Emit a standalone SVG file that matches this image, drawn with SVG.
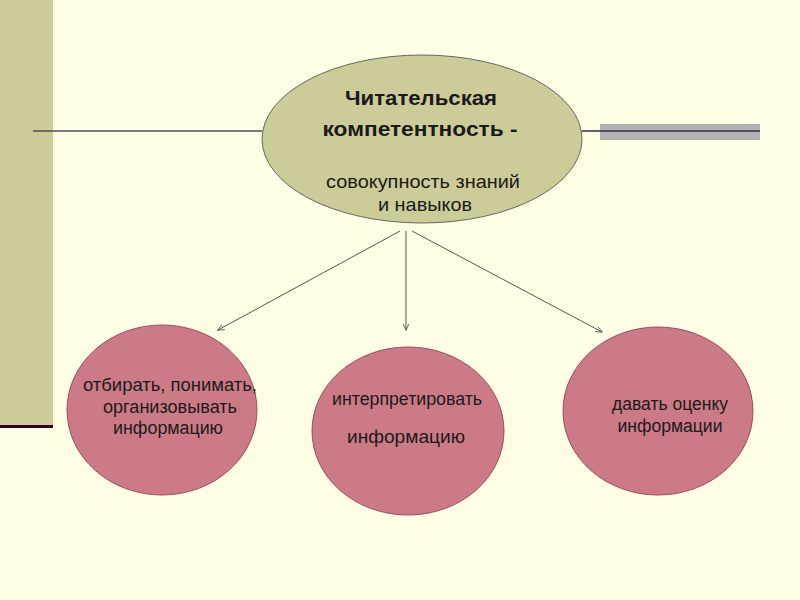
<svg xmlns="http://www.w3.org/2000/svg" width="800" height="600" viewBox="0 0 800 600">
<defs>
<style>
.t{font-family:"Liberation Sans",Arial,sans-serif;fill:#1a1a1a;text-anchor:middle}
.b{font-weight:bold;font-size:20px}
.n{font-size:19px}
.s{font-size:17.5px}
.pink{fill:#cc7a85;stroke:#9e4a58;stroke-width:1}
.con{stroke:#555;stroke-width:1;fill:none;marker-end:url(#ah)}
</style>
<marker id="ah" viewBox="0 0 10 10" refX="9" refY="5" markerWidth="7" markerHeight="7" orient="auto" markerUnits="userSpaceOnUse">
<path d="M0,1 L10,5 L0,9" fill="none" stroke="#555" stroke-width="1.2"/>
</marker>
</defs>
<rect width="800" height="600" fill="#ffffe5"/>
<rect x="0" y="0" width="53" height="426" fill="#cccc99"/>
<rect x="0" y="425" width="53" height="3" fill="#330033"/>
<line x1="33" y1="131" x2="262" y2="131" stroke="#5a4a55" stroke-width="1.5"/>
<rect x="600" y="124" width="160" height="16" fill="#b2b2b2"/>
<line x1="582" y1="131" x2="760" y2="131" stroke="#3a2540" stroke-width="1.5"/>
<g id="connectors">
<line class="con" x1="400" y1="231" x2="218" y2="330"/>
<line class="con" x1="406" y1="231" x2="406" y2="330"/>
<line class="con" x1="412" y1="231" x2="602" y2="332"/>
</g>
<g id="main">
<ellipse cx="422" cy="139" rx="160" ry="84" fill="#cccc99" stroke="#666" stroke-width="1"/>
<text class="t b" x="421" y="105" textLength="152" lengthAdjust="spacingAndGlyphs">Читательская</text>
<text class="t b" x="420" y="136" textLength="195" lengthAdjust="spacingAndGlyphs">компетентность -</text>
<text class="t n" x="423" y="188" textLength="194" lengthAdjust="spacingAndGlyphs">совокупность знаний</text>
<text class="t n" x="425" y="211" textLength="94" lengthAdjust="spacingAndGlyphs">и навыков</text>
</g>
<g id="n1">
<ellipse class="pink" cx="162" cy="410" rx="95" ry="85"/>
<text class="t s" x="170" y="391" textLength="174" lengthAdjust="spacingAndGlyphs">отбирать, понимать,</text>
<text class="t s" x="170" y="413" textLength="134" lengthAdjust="spacingAndGlyphs">организовывать</text>
<text class="t s" x="168" y="434" textLength="110" lengthAdjust="spacingAndGlyphs">информацию</text>
</g>
<g id="n2">
<ellipse class="pink" cx="408" cy="431" rx="96" ry="84"/>
<text class="t s" x="407" y="405" textLength="150" lengthAdjust="spacingAndGlyphs">интерпретировать</text>
<text class="t s" x="406" y="443" textLength="118" lengthAdjust="spacingAndGlyphs">информацию</text>
</g>
<g id="n3">
<ellipse class="pink" cx="658" cy="411" rx="95" ry="84"/>
<text class="t s" x="670" y="410" textLength="116" lengthAdjust="spacingAndGlyphs">давать оценку</text>
<text class="t s" x="670" y="432" textLength="105" lengthAdjust="spacingAndGlyphs">информации</text>
</g>
</svg>
